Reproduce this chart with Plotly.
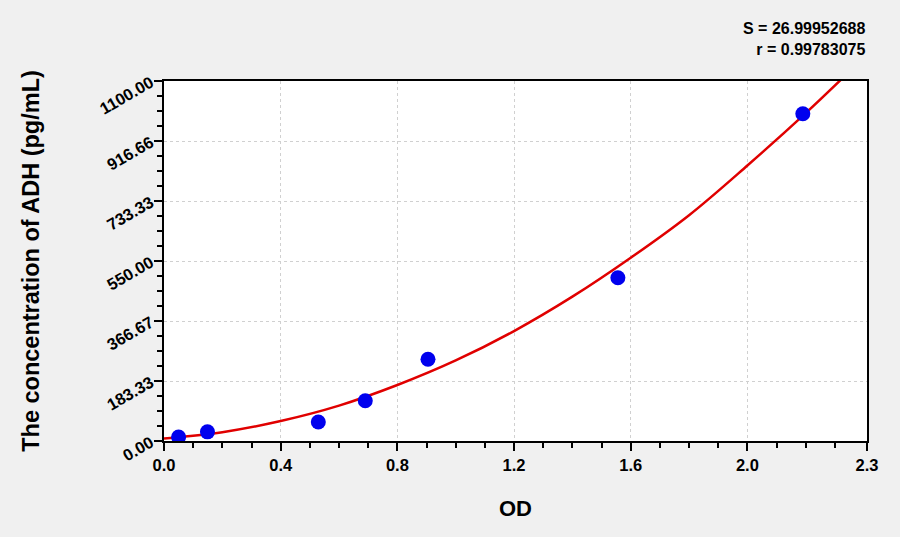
import plotly.graph_objects as go

# standard points
od = [0.05, 0.149, 0.529, 0.69, 0.905, 1.556, 2.19]
conc = [12, 28, 58, 123, 250, 499, 1000]

# fitted curve
curve_od = [0, 0.2, 0.4, 0.6, 0.8, 1.0, 1.2, 1.4, 1.6, 1.8, 2.0, 2.2, 2.33]
curve_conc = [8, 27, 61, 108, 171, 246, 336, 441, 560, 690, 842, 1002, 1112]

x_ticks = [0, 0.4, 0.8, 1.2, 1.6, 2.0, 2.41]
x_labels = ["0.0", "0.4", "0.8", "1.2", "1.6", "2.0", "2.3"]
x_minor = [0.1, 0.2, 0.3, 0.5, 0.6, 0.7, 0.9, 1.0, 1.1, 1.3, 1.4, 1.5,
           1.7, 1.8, 1.9, 2.1, 2.2, 2.3]
y_ticks = [0, 183.33, 366.67, 550, 733.33, 916.66, 1100]
y_labels = ["0.00", "183.33", "366.67", "550.00", "733.33", "916.66", "1100.00"]

font = "Liberation Sans, Arial, sans-serif"

fig = go.Figure()
fig.add_trace(go.Scatter(x=curve_od, y=curve_conc, mode="lines",
                         line=dict(color="#e00000", width=2.5, shape="spline"),
                         hoverinfo="skip"))
fig.add_trace(go.Scatter(x=od, y=conc, mode="markers",
                         marker=dict(color="#0000ee", size=15)))

axis_common = dict(showline=True, linecolor="black", linewidth=1.8, mirror=True,
                   ticks="outside", ticklen=8, tickwidth=1.5, tickcolor="black",
                   showgrid=True, gridcolor="#d0d0d0", griddash="dot", gridwidth=1,
                   zeroline=False,
                   tickfont=dict(family=font, size=16.5, color="black", weight="bold"))

fig.update_xaxes(range=[0, 2.41], tickmode="array", tickvals=x_ticks, ticktext=x_labels,
                 minor=dict(tickmode="array", tickvals=x_minor, ticks="outside",
                            ticklen=5, tickcolor="black", showgrid=False),
                 title=dict(text="OD", standoff=28,
                            font=dict(family=font, size=22, color="black", weight="bold")),
                 **axis_common)
fig.update_yaxes(range=[0, 1100], tickmode="array", tickvals=y_ticks, ticktext=y_labels,
                 tickangle=-30,
                 minor=dict(dtick=45.8333, tick0=0, ticks="outside",
                            ticklen=5, tickcolor="black", showgrid=False),
                 title=dict(text="The concentration of ADH (pg/mL)", standoff=50,
                            font=dict(family=font, size=23.5, color="black", weight="bold")),
                 **axis_common)

fig.add_annotation(x=1, y=1, xref="paper", yref="paper", xanchor="right", yanchor="bottom",
                   yshift=21, showarrow=False, align="right",
                   text="S = 26.99952688<br>r = 0.99783075",
                   font=dict(family=font, size=16, color="black", weight="bold"))

fig.update_layout(width=900, height=537, showlegend=False,
                  paper_bgcolor="#f0f0f0", plot_bgcolor="white",
                  margin=dict(l=164, r=33, t=81, b=96))

fig.write_html("out.html", config={"displayModeBar": False},
               post_script="document.body.style.margin='0';")
